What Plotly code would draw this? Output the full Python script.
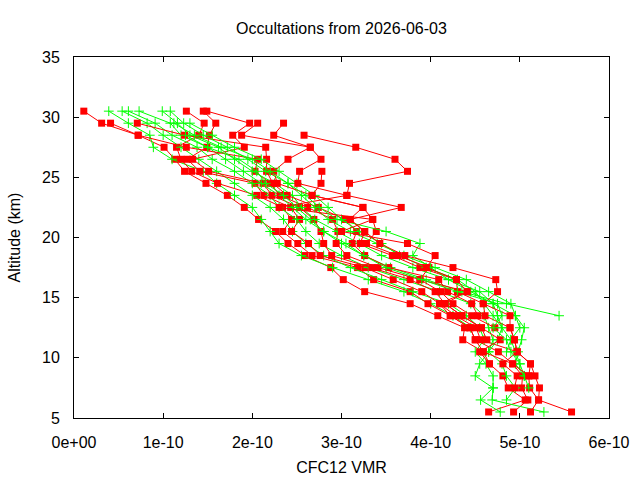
import plotly.graph_objects as go

# Altitude grid (km), top to bottom
ALT = [30.5, 29.5, 28.5, 27.5, 26.5, 25.5, 24.5, 23.5, 22.5, 21.5, 20.5, 19.5, 18.5,
       17.5, 16.5, 15.5, 14.5, 13.5, 12.5, 11.5, 10.5, 9.5, 8.5, 7.5, 6.5, 5.5]

# Red profiles: (top altitude, CFC12 VMR in units of 1e-10 from top downward)
red_tops = [30.5, 30.5, 30.5, 30.5, 29.5, 29.5, 29.5, 29.5, 28.5, 25.5]
red_1 = [0.11, 0.31, 0.72, 1.01, 1.13, 1.24, 1.48, 1.72, 1.91, 2.07, 2.26, 2.40, 2.59,
         2.88, 3.02, 3.26, 3.77, 4.08, 4.38, 4.36, 4.59, 4.66, 4.81, 4.87, 5.06, 4.65]
red_2 = [1.26, 1.46, 1.40, 1.15, 1.20, 1.32, 1.61, 2.05, 2.34, 2.44, 2.34, 2.51, 2.67,
         3.18, 3.36, 3.77, 3.97, 4.22, 4.44, 4.50, 4.76, 4.92, 5.03, 5.02, 5.09, 4.93]
red_3 = [1.45, 1.59, 1.52, 1.49, 1.27, 1.41, 2.03, 2.13, 2.43, 2.53, 2.44, 2.63, 2.76,
         3.26, 3.58, 3.90, 4.10, 4.28, 4.51, 4.56, 4.97, 5.12, 5.10, 5.11, 5.21, 5.12]
red_4 = [1.49, 1.97, 1.78, 1.91, 1.33, 1.51, 2.12, 2.22, 2.53, 2.69, 2.77, 2.80, 2.89,
         3.34, 3.77, 4.05, 4.16, 4.35, 4.57, 4.63]
red_5 = [0.41, 0.72, 1.26, 2.06, 2.03, 2.20, 2.31, 2.62, 2.90, 2.96, 2.94, 3.06, 3.41,
         3.88, 4.11, 4.25, 4.46, 4.72]
red_6 = [0.71, 1.24, 2.15, 2.16, 2.16, 2.23, 2.39, 2.74, 3.04, 3.17, 3.12, 3.26, 3.53,
         4.09, 4.19, 4.46, 4.53]
red_7 = [2.06, 1.88, 2.65, 2.40, 2.24, 2.28, 2.67, 3.24, 3.09, 3.26, 3.21, 3.57, 3.88,
         4.29, 4.30, 4.59, 4.61, 4.89, 4.94, 4.97, 4.81, 4.97, 4.94]
red_8 = [2.35, 2.24, 2.65, 2.77, 2.53, 2.51, 3.06, 2.30, 3.35, 3.39, 3.28, 3.63, 3.98,
         3.88, 4.41, 4.16, 4.35, 4.57, 4.78, 4.55, 4.66]
red_9 = [2.58, 3.16, 3.60, 3.74, 3.09, 3.06, 3.67, 3.10, 3.26, 3.43, 3.71, 4.25, 4.73,
         4.75, 4.59, 4.89, 4.89, 4.94, 4.97, 5.12, 5.17, 5.22, 5.21, 5.58]
red_10 = [2.78, 2.77, 2.67, 3.24, 3.35, 3.00, 3.74, 4.05, 3.95, 4.29, 4.41, 4.10, 4.22,
          4.44, 4.50, 4.59, 4.92, 5.10]

# Green profiles
green_tops = [30.5, 30.5, 30.5, 30.5, 30.5, 30.5, 29.5, 29.5, 28.5]
green_1 = [0.39, 0.61, 0.85, 0.89, 1.10, 1.45, 1.60, 1.80, 2.00, 2.10, 2.20, 2.30, 2.55,
           2.90, 3.30, 3.70, 4.00, 4.25, 4.45]
green_2 = [0.54, 0.82, 1.00, 1.20, 1.40, 1.60, 1.80, 2.00, 2.20, 2.35, 2.45, 2.60, 2.80,
           3.10, 3.45, 3.80, 4.20, 4.40, 4.55, 4.60, 4.50, 4.62, 4.70, 4.70, 4.69, 5.27]
green_3 = [0.61, 0.91, 1.10, 1.38, 1.55, 1.80, 2.00, 2.20, 2.30, 2.50, 2.60, 2.75, 3.00,
           3.30, 3.70, 4.10, 4.45, 4.60, 4.65, 4.70, 4.65, 4.80, 4.85, 4.95, 4.85]
green_4 = [0.73, 1.08, 1.20, 1.50, 1.70, 1.90, 2.10, 2.30, 2.45, 2.60, 2.80, 3.00, 3.25,
           3.55, 3.95, 4.35, 4.85, 5.44]
green_5 = [0.99, 1.16, 1.30, 1.62, 1.80, 2.00, 2.25, 2.45, 2.55, 2.70, 2.95, 3.20, 3.45,
           3.80, 4.20, 4.55, 4.70, 4.75, 4.80, 4.90, 4.95, 5.00, 5.05, 5.10]
green_6 = [1.08, 1.23, 1.45, 1.72, 1.95, 2.15, 2.40, 2.55, 2.70, 2.85, 3.10, 3.40, 3.70,
           4.05, 4.40, 4.65, 4.90, 4.95, 5.00, 4.90, 4.85]
green_7 = [1.30, 1.55, 1.80, 2.10, 2.30, 2.50, 2.70, 2.85, 3.00, 3.20, 3.45, 3.65, 3.95,
           4.30, 4.50, 4.60, 4.70, 4.80, 4.75, 4.65, 4.55, 4.50, 4.70, 4.56, 4.78, 5.47]
green_8 = [1.12, 1.35, 1.65, 2.00, 2.20, 2.40, 2.60, 2.75, 2.95, 3.50, 3.88, 3.80, 4.00,
           4.20, 4.45, 4.70, 4.95, 5.05, 5.02, 4.98, 4.95, 5.05]
green_9 = [1.25, 1.50, 1.85, 2.05, 2.15, 2.35, 2.50, 2.65, 2.80, 3.05, 3.25, 3.50, 3.90,
           4.30, 4.75, 4.80, 4.70, 4.85, 4.90, 5.00]

VMR_UNIT = 1e-10
x_tickvals = [0, 1e-10, 2e-10, 3e-10, 4e-10, 5e-10, 6e-10]
x_ticktext = ["0e+00", "1e-10", "2e-10", "3e-10", "4e-10", "5e-10", "6e-10"]
y_tickvals = [5, 10, 15, 20, 25, 30, 35]

red_profiles = [red_1, red_2, red_3, red_4, red_5, red_6, red_7, red_8, red_9, red_10]
green_profiles = [green_1, green_2, green_3, green_4, green_5, green_6, green_7, green_8, green_9]

def alts_for(top, n):
    i = ALT.index(top)
    return ALT[i:i + n]

fig = go.Figure()
n = max(len(red_profiles), len(green_profiles))
for k in range(n):
    if k < len(red_profiles):
        vals = red_profiles[k]
        fig.add_trace(go.Scatter(
            x=[v * VMR_UNIT for v in vals], y=alts_for(red_tops[k], len(vals)),
            mode="lines+markers",
            line=dict(color="#ff0000", width=1),
            marker=dict(symbol="square", size=7, color="#ff0000", line=dict(width=0)),
            showlegend=False, hoverinfo="x+y"))
    if k < len(green_profiles):
        vals = green_profiles[k]
        fig.add_trace(go.Scatter(
            x=[v * VMR_UNIT for v in vals], y=alts_for(green_tops[k], len(vals)),
            mode="lines+markers",
            line=dict(color="#00ff00", width=1),
            marker=dict(symbol="cross-thin", size=7, color="#00ff00",
                        line=dict(width=1, color="#00ff00")),
            showlegend=False, hoverinfo="x+y"))

font = dict(family="Liberation Sans, Arial, sans-serif", size=16, color="black")
fig.update_layout(
    width=640, height=480,
    margin=dict(l=74, r=31, t=57, b=62),
    paper_bgcolor="white", plot_bgcolor="white",
    font=font,
    title=dict(text="Occultations from 2026-06-03", x=(74 + 609) / 2 / 640, xanchor="center",
               y=1 - 28 / 480, yanchor="middle", font=font),
    showlegend=False,
)
axis_common = dict(showline=True, linecolor="black", linewidth=1, mirror="ticks",
                   ticks="inside", ticklen=5, tickwidth=1, tickcolor="black",
                   showgrid=False, zeroline=False, tickfont=font, automargin=False)
fig.update_xaxes(range=[0, 6e-10], tickvals=x_tickvals, ticktext=x_ticktext,
                 title=dict(text="CFC12 VMR", font=font, standoff=11),
                 ticklabelstandoff=10, **axis_common)
fig.update_yaxes(range=[5, 35], tickvals=y_tickvals,
                 title=dict(text="Altitude (km)", font=font, standoff=17),
                 ticklabelstandoff=10, **axis_common)

fig.write_html("out.html")
